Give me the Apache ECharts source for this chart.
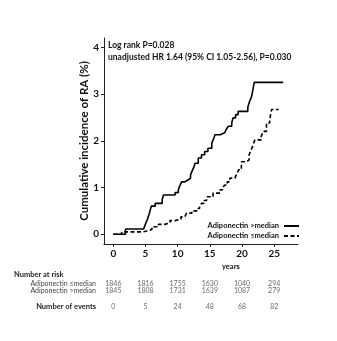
<!DOCTYPE html>
<html>
<head>
<meta charset="utf-8">
<script src="https://cdn.jsdelivr.net/npm/echarts@6/dist/echarts.min.js"></script>
<style>
  html, body { margin: 0; padding: 0; background: #fff; }
  #chart { width: 337px; height: 341px; }
</style>
</head>
<body>
<div id="chart"></div>
<script>
// Kaplan–Meier style cumulative incidence of RA by adiponectin group: [years, %]
const highCurve = [
  [0, 0], [1.9, 0.11], [4.7, 0.15], [5.0, 0.22], [5.3, 0.32], [5.6, 0.45], [5.9, 0.6],
  [6.5, 0.66], [7.6, 0.75], [7.8, 0.84], [9.6, 0.89], [10.1, 0.95], [10.3, 1.02],
  [10.6, 1.12], [11.1, 1.16], [11.6, 1.2], [12.0, 1.27], [12.2, 1.34], [12.5, 1.43],
  [12.7, 1.52], [13.2, 1.63], [13.7, 1.7], [14.2, 1.77], [14.7, 1.84], [15.3, 1.95],
  [15.6, 2.05], [15.8, 2.13], [16.6, 2.17], [17.3, 2.2], [17.6, 2.26], [17.9, 2.31],
  [18.4, 2.38], [18.6, 2.49], [19.0, 2.56], [19.4, 2.63], [20.9, 2.72], [21.2, 2.85],
  [21.5, 2.95], [21.7, 3.1], [21.9, 3.25], [26.4, 3.25]
];
const lowCurve = [
  [0, 0], [1.3, 0.05], [4.6, 0.07], [5.2, 0.1], [6.0, 0.16], [7.0, 0.21], [8.0, 0.24],
  [8.8, 0.29], [9.6, 0.32], [10.5, 0.37], [11.1, 0.41], [11.4, 0.45], [12.2, 0.5],
  [13.0, 0.55], [13.4, 0.6], [13.7, 0.66], [14.1, 0.72], [14.5, 0.8], [15.5, 0.88],
  [16.6, 0.95], [17.0, 1.0], [17.3, 1.05], [17.7, 1.12], [18.1, 1.2], [18.9, 1.23],
  [19.2, 1.3], [19.5, 1.38], [19.9, 1.55], [20.7, 1.59], [21.1, 1.7], [21.4, 1.8],
  [21.7, 1.9], [22.0, 2.02], [23.0, 2.1], [23.3, 2.2], [23.8, 2.38], [24.3, 2.45],
  [24.6, 2.67], [25.7, 2.67]
];

// Axis ticks
const yearTicks = [0, 5, 10, 15, 20, 25];
const incidenceTicks = [0, 1, 2, 3, 4];

// Risk table
const riskLow = [1846, 1816, 1755, 1630, 1040, 294];
const riskHigh = [1845, 1808, 1731, 1639, 1087, 279];
const events = [0, 5, 24, 48, 68, 82];

const nameHigh = 'Adiponectin >median';
const nameLow = 'Adiponectin \u2264median';
const nameEvents = 'Number of events';
const tableRows = [nameLow, nameHigh, ' ', nameEvents];

const FONT = 'Lato, "Open Sans", sans-serif';
const INK = '#111';

function tableSeries(row, counts) {
  return {
    type: 'scatter',
    xAxisIndex: 1,
    yAxisIndex: 1,
    symbolSize: 1,
    itemStyle: { color: 'rgba(0,0,0,0)' },
    silent: true,
    clip: false,
    data: yearTicks.map((t, i) => [t, row, counts[i]]),
    label: {
      show: true,
      position: 'inside',
      formatter: p => String(p.value[2]),
      fontFamily: FONT,
      fontSize: 7,
      color: '#444'
    }
  };
}

const chart = echarts.init(document.getElementById('chart'), null, { renderer: 'canvas' });

chart.setOption({
  animation: false,
  backgroundColor: '#fff',
  title: {
    text: 'Log rank P=0.028',
    subtext: 'unadjusted HR 1.64 (95% CI 1.05-2.56), P=0.030',
    left: 108,
    top: 41,
    padding: 0,
    itemGap: 3,
    textStyle: { fontFamily: FONT, fontSize: 8.5, fontWeight: 'bold', color: INK },
    subtextStyle: { fontFamily: FONT, fontSize: 8.5, fontWeight: 'bold', color: INK }
  },
  legend: {
    data: [nameHigh, nameLow],
    orient: 'vertical',
    right: 37,
    top: 222,
    align: 'right',
    itemWidth: 15,
    itemHeight: 8,
    itemGap: 2,
    padding: 0,
    itemStyle: { opacity: 0 },
    textStyle: { fontFamily: FONT, fontSize: 7.5, fontWeight: 'bold', color: INK }
  },
  grid: [
    { left: 104, top: 38, width: 194, height: 206 },
    { left: 104, top: 279.4, width: 194, height: 31.2 }
  ],
  xAxis: [
    {
      type: 'value',
      min: -1.45,
      max: 28.7,
      axisLine: { show: true, onZero: false, lineStyle: { color: '#222', width: 1 } },
      axisTick: { show: true, customValues: yearTicks, length: 3, lineStyle: { color: '#222' } },
      axisLabel: {
        customValues: yearTicks,
        margin: 5,
        fontFamily: FONT,
        fontSize: 10,
        fontWeight: 'bold',
        color: INK
      },
      splitLine: { show: false }
    },
    { type: 'value', gridIndex: 1, min: -1.45, max: 28.7, show: false }
  ],
  yAxis: [
    {
      type: 'value',
      min: -0.21,
      max: 4.2,
      name: 'Cumulative incidence of RA (%)',
      nameLocation: 'middle',
      nameGap: 14,
      nameMoveOverlap: false,
      nameTextStyle: { fontFamily: FONT, fontSize: 11.5, fontWeight: 'bold', color: INK },
      axisLine: { show: true, onZero: false, lineStyle: { color: '#222', width: 1 } },
      axisTick: { show: true, customValues: incidenceTicks, length: 3, lineStyle: { color: '#222' } },
      axisLabel: {
        customValues: incidenceTicks,
        margin: 5,
        fontFamily: FONT,
        fontSize: 10,
        fontWeight: 'bold',
        color: INK
      },
      splitLine: { show: false }
    },
    {
      type: 'category',
      gridIndex: 1,
      inverse: true,
      data: tableRows,
      axisLine: { show: false },
      axisTick: { show: false },
      axisLabel: {
        interval: 0,
        margin: 8,
        fontFamily: FONT,
        fontSize: 7,
        color: '#444',
        formatter: v => (v === nameEvents ? '{b|' + v + '}' : v),
        rich: { b: { fontFamily: FONT, fontSize: 7.5, fontWeight: 'bold', color: '#222' } }
      },
      splitLine: { show: false }
    }
  ],
  graphic: [
    {
      type: 'text',
      left: 222,
      top: 263,
      style: { text: 'years', fontFamily: FONT, fontSize: 7.5, fontWeight: 'bold', fill: INK }
    },
    {
      type: 'text',
      left: 14,
      top: 271,
      style: { text: 'Number at risk', fontFamily: FONT, fontSize: 7.5, fontWeight: 'bold', fill: '#222' }
    }
  ],
  series: [
    {
      name: nameHigh,
      type: 'line',
      step: 'end',
      symbol: 'none',
      showSymbol: false,
      data: highCurve,
      lineStyle: { color: '#000', width: 1.6 },
      itemStyle: { color: '#000' }
    },
    {
      name: nameLow,
      type: 'line',
      step: 'end',
      symbol: 'none',
      showSymbol: false,
      data: lowCurve,
      lineStyle: { color: '#000', width: 1.6, type: [4, 2.5] },
      itemStyle: { color: '#000' }
    },
    tableSeries(nameLow, riskLow),
    tableSeries(nameHigh, riskHigh),
    tableSeries(nameEvents, events)
  ]
});
</script>
</body>
</html>
